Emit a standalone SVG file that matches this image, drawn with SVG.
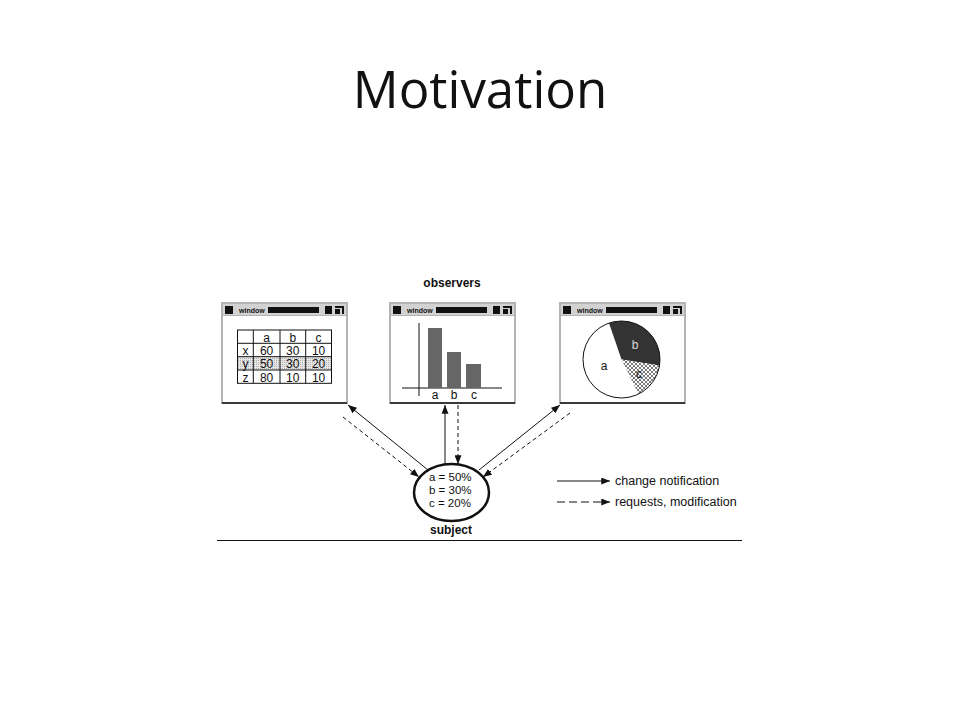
<svg xmlns="http://www.w3.org/2000/svg" xmlns:xlink="http://www.w3.org/1999/xlink" width="960" height="720" viewBox="0 0 960 720">
<style>
.t{font-family:"Liberation Sans",Arial,sans-serif;fill:#111}
.s11{font-size:12px}
.s12{font-size:12.5px}
.se{font-size:11.5px}
.b{font-weight:bold}
.win{fill:#fff;stroke:#b4b4b4;stroke-width:2}
.conn{stroke:#111;stroke-width:1;fill:none}
.dash{stroke-dasharray:4 3}
.ldash{stroke-dasharray:8 4}
</style>
<defs>
<marker id="ah" viewBox="0 0 10 8" refX="10" refY="4" markerWidth="9" markerHeight="7" markerUnits="userSpaceOnUse" orient="auto">
<path d="M0,0 L10,4 L0,8 Z" fill="#111"/>
</marker>
<pattern id="hatch" width="4" height="4" patternUnits="userSpaceOnUse">
<rect width="4" height="4" fill="#fff"/>
<path d="M0,0 L4,4 M4,0 L0,4" stroke="#222" stroke-width="0.6"/>
</pattern>
<pattern id="stip" width="2" height="2" patternUnits="userSpaceOnUse">
<rect width="2" height="2" fill="#e6e6e6"/>
<rect width="1" height="1" fill="#b0b0b0"/>
</pattern>
<g id="chrome">
<rect x="0" y="0" width="125" height="100" class="win"/>
<rect x="1" y="1" width="123" height="11" fill="#d2d2d2"/>
<line x1="1" y1="12.5" x2="124" y2="12.5" stroke="#b4b4b4" stroke-width="1"/>
<rect x="3" y="3" width="8" height="8" fill="#111"/>
<text x="17" y="10" style="font-family:'Liberation Sans',Arial,sans-serif;font-size:7px;font-weight:bold" fill="#111">window</text>
<rect x="46" y="4" width="51" height="6" fill="#111"/>
<rect x="103" y="3" width="7" height="8" fill="#111"/>
<path d="M113,3 H122 V11 H120 V5 H113 Z M113,6 H118 V11 H113 Z" fill="#111"/>
<line x1="0" y1="100" x2="125" y2="100" stroke="#111" stroke-width="1.5"/>
</g>
</defs>
<rect width="960" height="720" fill="#fff"/>
<text x="480" y="108" text-anchor="middle" style="font-family:'Open Sans','Liberation Sans',sans-serif;font-size:51px" fill="#111">Motivation</text>

<text x="452" y="287" text-anchor="middle" class="t s11 b">observers</text>

<g id="table-window">
<use xlink:href="#chrome" x="222" y="303"/>
<rect x="237.5" y="356.7" width="94" height="13.3" fill="url(#stip)"/>
<rect x="237.5" y="330" width="94" height="53.3" fill="none" stroke="#111" stroke-width="1"/>
<path d="M237.5,343.3 H331.5 M237.5,356.7 H331.5 M237.5,370 H331.5 M253.3,330 V383.3 M280,330 V383.3 M305.7,330 V383.3" stroke="#111" stroke-width="1" fill="none"/>
<g class="t s11" text-anchor="middle">
<text x="266.6" y="341.5">a</text><text x="292.8" y="341.5">b</text><text x="318.6" y="341.5">c</text>
<text x="245.4" y="355">x</text><text x="266.6" y="355">60</text><text x="292.8" y="355">30</text><text x="318.6" y="355">10</text>
<text x="245.4" y="368.3">y</text><text x="266.6" y="368.3">50</text><text x="292.8" y="368.3">30</text><text x="318.6" y="368.3">20</text>
<text x="245.4" y="381.5">z</text><text x="266.6" y="381.5">80</text><text x="292.8" y="381.5">10</text><text x="318.6" y="381.5">10</text>
</g>
</g>

<g id="bar-window">
<use xlink:href="#chrome" x="390" y="303"/>
<line x1="419" y1="323" x2="419" y2="396" stroke="#111" stroke-width="1"/>
<line x1="402" y1="388" x2="502" y2="388" stroke="#111" stroke-width="1"/>
<rect x="428" y="328" width="14" height="60" fill="#666"/>
<rect x="447" y="352" width="14" height="36" fill="#666"/>
<rect x="466" y="364" width="15" height="24" fill="#666"/>
<g class="t s11" text-anchor="middle">
<text x="435" y="399">a</text><text x="454" y="399">b</text><text x="474" y="399">c</text>
</g>
</g>

<g id="pie-window">
<use xlink:href="#chrome" x="560" y="303"/>
<circle cx="621.5" cy="359.5" r="38.5" fill="#fff"/>
<path d="M621.5,359.5 L609,323.1 A38.5,38.5 0 0 1 659.5,365.5 Z" fill="#333"/>
<path d="M621.5,359.5 L659.5,365.5 A38.5,38.5 0 0 1 638.4,394.1 Z" fill="url(#hatch)"/>
<circle cx="621.5" cy="359.5" r="38.5" fill="none" stroke="#111" stroke-width="1"/>
<text x="635" y="349" text-anchor="middle" class="s11" style="font-family:'Liberation Sans',Arial,sans-serif" fill="#d8d8d8">b</text>
<text x="604" y="370" text-anchor="middle" class="t s11">a</text>
<text x="639" y="378" text-anchor="middle" class="t s11">c</text>
</g>

<g id="subject">
<ellipse cx="451.5" cy="492.5" rx="37.5" ry="28.5" fill="#fff" stroke="#111" stroke-width="2.5"/>
<text x="429" y="480.7" class="t se">a = 50%</text>
<text x="429" y="494" class="t se">b = 30%</text>
<text x="429" y="507.3" class="t se">c = 20%</text>
<text x="451" y="534" text-anchor="middle" class="t s11 b">subject</text>
</g>

<g id="connectors">
<line x1="428" y1="470" x2="348" y2="405" class="conn" marker-end="url(#ah)"/>
<line x1="343" y1="417" x2="419" y2="477" class="conn dash" marker-end="url(#ah)"/>
<line x1="445" y1="464" x2="445" y2="405" class="conn" marker-end="url(#ah)"/>
<line x1="458" y1="405" x2="458" y2="464" class="conn dash" marker-end="url(#ah)"/>
<line x1="479" y1="470" x2="560" y2="405" class="conn" marker-end="url(#ah)"/>
<line x1="570" y1="413" x2="483" y2="477" class="conn dash" marker-end="url(#ah)"/>
</g>

<g id="legend">
<line x1="557" y1="481" x2="610" y2="481" class="conn" marker-end="url(#ah)"/>
<line x1="557" y1="502" x2="610" y2="502" class="conn ldash" marker-end="url(#ah)"/>
<text x="615" y="485" class="t s12">change notification</text>
<text x="615" y="506" class="t s12">requests, modification</text>
</g>

<line x1="217" y1="540.5" x2="742" y2="540.5" stroke="#111" stroke-width="1"/>
</svg>
